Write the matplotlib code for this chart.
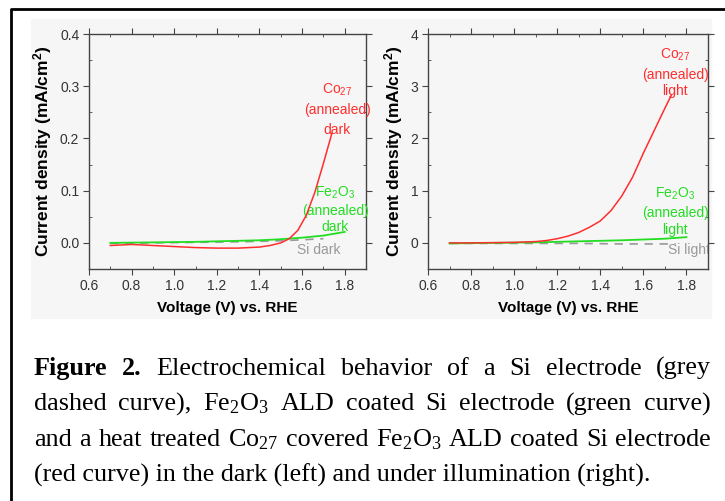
import numpy as np
import matplotlib.pyplot as plt
from matplotlib.patches import Rectangle
from matplotlib.lines import Line2D
from matplotlib.ticker import MultipleLocator, FormatStrFormatter

plt.rcParams['font.family'] = ['Liberation Sans', 'DejaVu Sans']

# left panel: dark
v_red_dark = [0.70, 0.80, 0.90, 1.00, 1.10, 1.20, 1.30, 1.40, 1.45, 1.50,
              1.54, 1.58, 1.62, 1.66, 1.70, 1.74]
j_red_dark = [-0.005, -0.003, -0.005, -0.007, -0.009, -0.010, -0.010, -0.008,
              -0.005, 0.000, 0.008, 0.024, 0.053, 0.097, 0.152, 0.21]
v_green_dark = [0.7, 0.8, 0.9, 1.0, 1.1, 1.2, 1.3, 1.4, 1.5, 1.6, 1.7, 1.8]
j_green_dark = [0.000, 0.0005, 0.001, 0.0015, 0.002, 0.003, 0.004, 0.005,
                0.007, 0.010, 0.014, 0.021]
v_si_dark = [0.7, 0.8, 0.9, 1.0, 1.1, 1.2, 1.3, 1.4, 1.5, 1.6, 1.7]
j_si_dark = [-0.001, -0.001, 0.0, 0.0005, 0.001, 0.0015, 0.002, 0.003, 0.004,
             0.006, 0.008]

# right panel: light
v_red_light = [0.7, 0.8, 0.9, 1.0, 1.1, 1.15, 1.2, 1.25, 1.3, 1.35, 1.4, 1.45,
               1.5, 1.55, 1.6, 1.65, 1.7, 1.73]
j_red_light = [0.0, 0.0, 0.005, 0.01, 0.025, 0.045, 0.08, 0.13, 0.2, 0.3, 0.42,
               0.62, 0.9, 1.26, 1.72, 2.15, 2.58, 2.83]
v_green_light = [0.7, 0.8, 0.9, 1.0, 1.1, 1.2, 1.3, 1.4, 1.5, 1.6, 1.7, 1.8]
j_green_light = [-0.01, -0.005, 0.0, 0.005, 0.01, 0.02, 0.03, 0.04, 0.05,
                 0.065, 0.08, 0.11]
v_si_light = [0.7, 0.8, 0.9, 1.0, 1.1, 1.2, 1.3, 1.4, 1.5, 1.6, 1.7, 1.75]
j_si_light = [-0.01, -0.01, -0.01, -0.01, -0.01, -0.01, -0.01, -0.015, -0.02,
              -0.02, -0.02, -0.02]

caption = [
    [("Figure", True), ("2.", True), ("Electrochemical", False), ("behavior", False),
     ("of", False), ("a", False), ("Si", False), ("electrode", False), ("(grey", False)],
    [("dashed", False), ("curve),", False), (r"Fe$\mathregular{_2}$O$\mathregular{_3}$", False),
     ("ALD", False), ("coated", False), ("Si", False), ("electrode", False),
     ("(green", False), ("curve)", False)],
    [("and", False), ("a", False), ("heat", False), ("treated", False),
     (r"Co$\mathregular{_{27}}$", False), ("covered", False),
     (r"Fe$\mathregular{_2}$O$\mathregular{_3}$", False), ("ALD", False),
     ("coated", False), ("Si", False), ("electrode", False)],
    [("(red curve) in the dark (left) and under illumination (right).", False)],
]

W, H = 725, 501
fig = plt.figure(figsize=(W / 100, H / 100), dpi=100)

bg = '#f6f6f6'
fig.patches.append(Rectangle((31 / W, 1 - 318 / H), (711 - 31) / W, (318 - 19) / H,
                             transform=fig.transFigure, color=bg, zorder=-5))
fig.lines.append(Line2D([11 / W, 11 / W, 1.0], [0.0, 1 - 8.5 / H, 1 - 8.5 / H],
                        transform=fig.transFigure, color='black', lw=2))

red = '#ff2e2e'
green = '#22dd22'
grey = '#999999'
tick_c = '#333333'


def style(ax, ymaj, ymin, fmt):
    ax.set_facecolor(bg)
    ax.set_xlim(0.6, 1.9)
    ax.xaxis.set_major_locator(MultipleLocator(0.2))
    ax.xaxis.set_minor_locator(MultipleLocator(0.1))
    ax.xaxis.set_major_formatter(FormatStrFormatter('%.1f'))
    ax.yaxis.set_major_locator(MultipleLocator(ymaj))
    ax.yaxis.set_minor_locator(MultipleLocator(ymin))
    ax.yaxis.set_major_formatter(FormatStrFormatter(fmt))
    for s in ax.spines.values():
        s.set_color('#444444')
        s.set_linewidth(1.0)
    ax.tick_params(which='both', top=True, right=True, color='#444444')
    ax.tick_params(which='major', direction='out', length=4, labelsize=10,
                   labelcolor=tick_c, pad=3)
    ax.tick_params(which='minor', direction='in', length=2.5)
    ax.set_xlabel('Voltage (V) vs. RHE', fontsize=11, fontweight='bold', labelpad=6)
    ax.set_ylabel(r'Current density (mA/cm$\mathregular{^2}$)', fontsize=12.5,
                  fontweight='bold', labelpad=4)


ax1 = fig.add_axes([89 / W, 1 - 269 / H, (366 - 89) / W, (269 - 34) / H])
ax2 = fig.add_axes([428 / W, 1 - 269 / H, (708 - 428) / W, (269 - 34) / H])

ax1.plot(v_si_dark, j_si_dark, color=grey, lw=1.2, ls=(0, (5, 4)), zorder=2)
ax1.plot(v_green_dark, j_green_dark, color=green, lw=1.3, zorder=3)
ax1.plot(v_red_dark, j_red_dark, color=red, lw=1.1, zorder=4)
ax1.set_ylim(-0.05, 0.4)
style(ax1, 0.1, 0.05, '%.1f')

ax2.plot(v_si_light, j_si_light, color=grey, lw=1.2, ls=(0, (5, 4)), zorder=2)
ax2.plot(v_green_light, j_green_light, color=green, lw=1.3, zorder=3)
ax2.plot(v_red_light, j_red_light, color=red, lw=1.1, zorder=4)
ax2.set_ylim(-0.5, 4)
style(ax2, 1, 0.5, '%d')

fs = 10
for ax, x, ys, words in [
    (ax1, 1.765, [0.293, 0.2545, 0.216], ['Co$\\mathregular{_{27}}$', '(annealed)', 'dark']),
    (ax2, 1.748, [3.60, 3.215, 2.91], ['Co$\\mathregular{_{27}}$', '(annealed)', 'light']),
]:
    for y, w in zip(ys, words):
        ax.text(x, y, w, color=red, fontsize=fs, ha='center', va='center')
for ax, x, ys, words in [
    (ax1, 1.755, [0.0957, 0.061, 0.031], ['Fe$\\mathregular{_2}$O$\\mathregular{_3}$', '(annealed)', 'dark']),
    (ax2, 1.748, [0.94, 0.574, 0.25], ['Fe$\\mathregular{_2}$O$\\mathregular{_3}$', '(annealed)', 'light']),
]:
    for y, w in zip(ys, words):
        ax.text(x, y, w, color=green, fontsize=fs, ha='center', va='center')
ax1.text(1.575, -0.0134, 'Si dark', color=grey, fontsize=fs, ha='left', va='center')
ax2.text(1.716, -0.134, 'Si light', color=grey, fontsize=fs, ha='left', va='center',
         clip_on=True)

# justified caption
renderer = fig.canvas.get_renderer()
x_left, x_right = 34, 711
baselines = [375, 410.5, 446, 481.5]
cap_fs = 18.8
for i, (line, yb) in enumerate(zip(caption, baselines)):
    items = []
    for word, bold in line:
        t = fig.text(0, 0, word, fontsize=cap_fs, family='Liberation Serif',
                     fontweight='bold' if bold else 'normal', va='baseline')
        items.append((t, t.get_window_extent(renderer).width))
    if len(items) > 1:
        gap = (x_right - x_left - sum(w for _, w in items)) / (len(items) - 1)
    else:
        gap = 0
    x = x_left
    for t, w in items:
        t.set_position((x / W, 1 - yb / H))
        x += w + gap

fig.savefig('out.png', dpi=100)
